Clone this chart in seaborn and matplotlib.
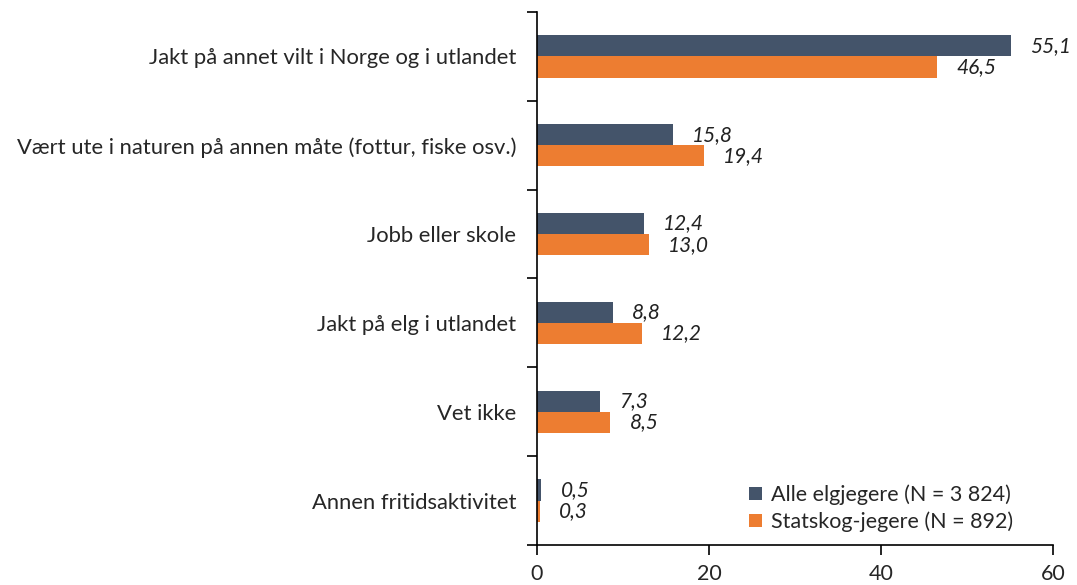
import matplotlib
matplotlib.use("Agg")
import matplotlib.pyplot as plt
import seaborn as sns
import pandas as pd
import numpy as np

categories = [
    "Jakt på annet vilt i Norge og i utlandet",
    "Vært ute i naturen på annen måte (fottur, fiske osv.)",
    "Jobb eller skole",
    "Jakt på elg i utlandet",
    "Vet ikke",
    "Annen fritidsaktivitet",
]
series_names = ["Alle elgjegere (N = 3 824)", "Statskog-jegere (N = 892)"]
alle = [55.1, 15.8, 12.4, 8.8, 7.3, 0.5]
statskog = [46.5, 19.4, 13.0, 12.2, 8.5, 0.3]
xticks = [0, 20, 40, 60]
colors = ["#44546A", "#ED7D31"]

df = pd.DataFrame({
    "kategori": categories * 2,
    "serie": [series_names[0]] * len(categories) + [series_names[1]] * len(categories),
    "verdi": alle + statskog,
})

sns.set_style("white")
plt.rcParams["font.family"] = ["Lato", "DejaVu Sans"]

fig = plt.figure(figsize=(10.77, 5.85), dpi=100)
ax = fig.add_axes([0.4986, 0.0684, 0.4791, 0.9111])

sns.barplot(data=df, x="verdi", y="kategori", hue="serie", order=categories,
            hue_order=series_names, palette=colors, orient="h", width=0.475,
            saturation=1, ax=ax, errorbar=None, linewidth=0)

for cont in ax.containers:
    labels = [f"{v:.1f}".replace(".", ",") for v in cont.datavalues]
    ax.bar_label(cont, labels=labels, padding=14, fontsize=15, fontstyle="italic",
                 color="#222222")

ax.set_xlim(0, 60)
ax.set_ylim(len(categories) - 0.5, -0.5)
ax.set_xticks(xticks)
ax.set_xticklabels([str(t) for t in xticks], fontsize=15.5)
ax.tick_params(axis="x", length=7, width=1.2, direction="out", color="black", pad=7, bottom=True)
ax.tick_params(axis="y", which="major", length=0, pad=15, labelsize=15.8)
ax.set_yticks(np.arange(-0.5, len(categories) + 0.5, 1), minor=True)
ax.tick_params(axis="y", which="minor", length=7, width=1.2, direction="out", color="black", left=True)
ax.set_xlabel("")
ax.set_ylabel("")
for s in ["top", "right"]:
    ax.spines[s].set_visible(False)
for s in ["left", "bottom"]:
    ax.spines[s].set_color("black")
    ax.spines[s].set_linewidth(1.2)

ax.legend(loc="lower right", bbox_to_anchor=(0.96, -0.012), frameon=False, fontsize=15.5,
          handlelength=0.6, handleheight=0.6, handletextpad=0.4, labelspacing=0.3)

fig.savefig("out.png", dpi=100)
